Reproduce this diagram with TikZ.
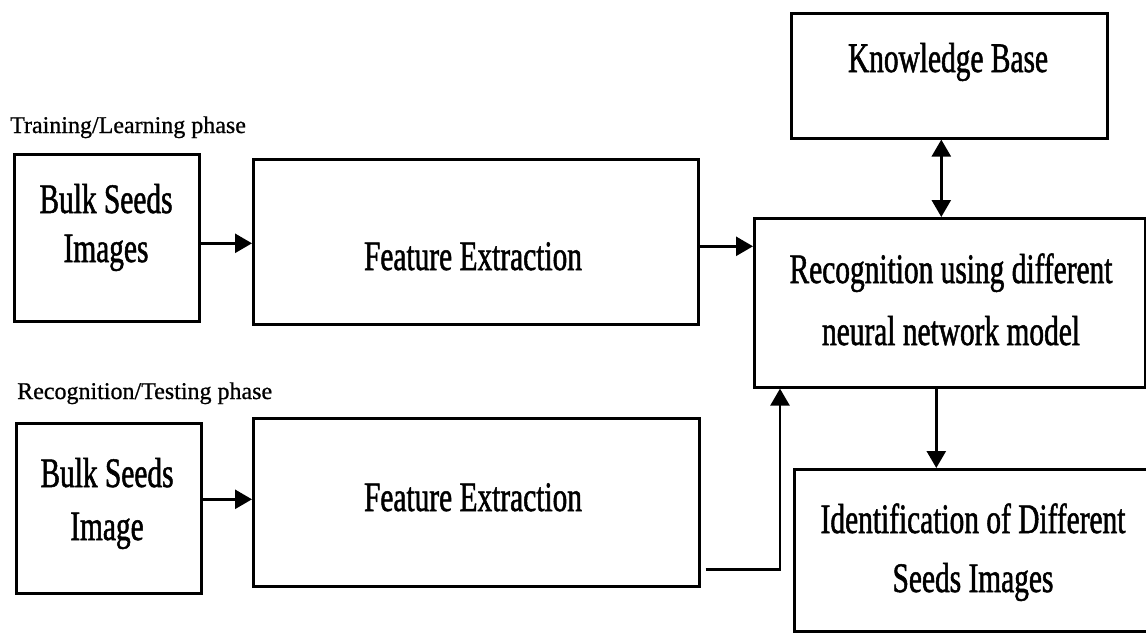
\documentclass[tikz,border=0pt]{standalone}
\usepackage{fontspec}
\setmainfont{Liberation Serif}[FakeStretch=0.7,FakeBold=1.2]
\newfontfamily\lblfont{Liberation Serif}[FakeStretch=1.0,FakeBold=0.8]
\usetikzlibrary{arrows.meta,calc}
\begin{document}
\begin{tikzpicture}[x=1pt,y=-1pt,
  box/.style={draw,line width=2.6pt,anchor=north west,inner sep=0pt},
  txt/.style={align=center,anchor=base,inner sep=0pt},
  lbl/.style={font=\lblfont\fontsize{24}{28}\selectfont,anchor=base west,inner sep=0pt},
  conn/.style={line width=2.6pt,-{Triangle[length=17pt,width=19pt]}},
  dconn/.style={line width=2.6pt,{Triangle[length=17pt,width=19pt]}-{Triangle[length=17pt,width=19pt]}}]
\useasboundingbox (0,0) rectangle (1146,632);
\clip (0,0) rectangle (1146,632);
% boxes
\node[box,minimum width=185,minimum height=167] (b1) at (13,153) {};
\node[box,minimum width=445,minimum height=165] (fe1) at (252,158) {};
\node[box,minimum width=185,minimum height=170] (b2) at (15,422) {};
\node[box,minimum width=446,minimum height=168] (fe2) at (252,417) {};
\node[box,minimum width=316,minimum height=125] (kb) at (790,12) {};
\node[box,minimum width=391,minimum height=169] (rec) at (753,217) {};
\node[box,minimum width=380,minimum height=162] (id) at (793,468) {};
% texts (base anchor = baseline of the last line)
\node[txt,font=\fontsize{42}{49}\selectfont] (t1) at (106,262) {Bulk Seeds\\Images};
\node[txt,font=\fontsize{42}{53}\selectfont] (t2) at (107,540) {Bulk Seeds\\Image};
\node[txt,font=\fontsize{42}{58}\selectfont] (t3) at (473,270) {Feature Extraction};
\node[txt,font=\fontsize{42}{58}\selectfont] (t4) at (473,511) {Feature Extraction};
\node[txt,font=\fontsize{42}{58}\selectfont] (t5) at (948,72) {Knowledge Base};
\node[txt,font=\fontsize{42}{62}\selectfont] (t6) at (951,345) {Recognition using different\\neural network model};
\node[txt,font=\fontsize{42}{59}\selectfont] (t7) at (973,592) {Identification of Different\\Seeds Images};
% labels
\node[lbl] (l1) at (10,133) {Training/Learning phase};
\node[lbl] (l2) at (17,399) {Recognition/Testing phase};
% connectors
\draw[conn] ($(b1.east)+(0,5.5)$) -- ($(fe1.west)+(0,1.5)$);
\draw[conn] ($(b2.east)+(0,-9)$) -- ($(fe2.west)+(0,-3)$);
\draw[conn] ($(fe1.east)+(0,4.5)$) -- ($(rec.west)+(0,-56.5)$);
\draw[dconn] ($(kb.south)+(-8,0)$) -- ($(rec.north)+(-8.5,0)$);
\draw[conn] ($(rec.south)+(-13.5,0)$) -- ($(id.north)+(-48,0)$);
\draw[conn] ($(fe2.east)+(5,67)$) -| ($(rec.south west)+(27,0)$);
\end{tikzpicture}
\end{document}
